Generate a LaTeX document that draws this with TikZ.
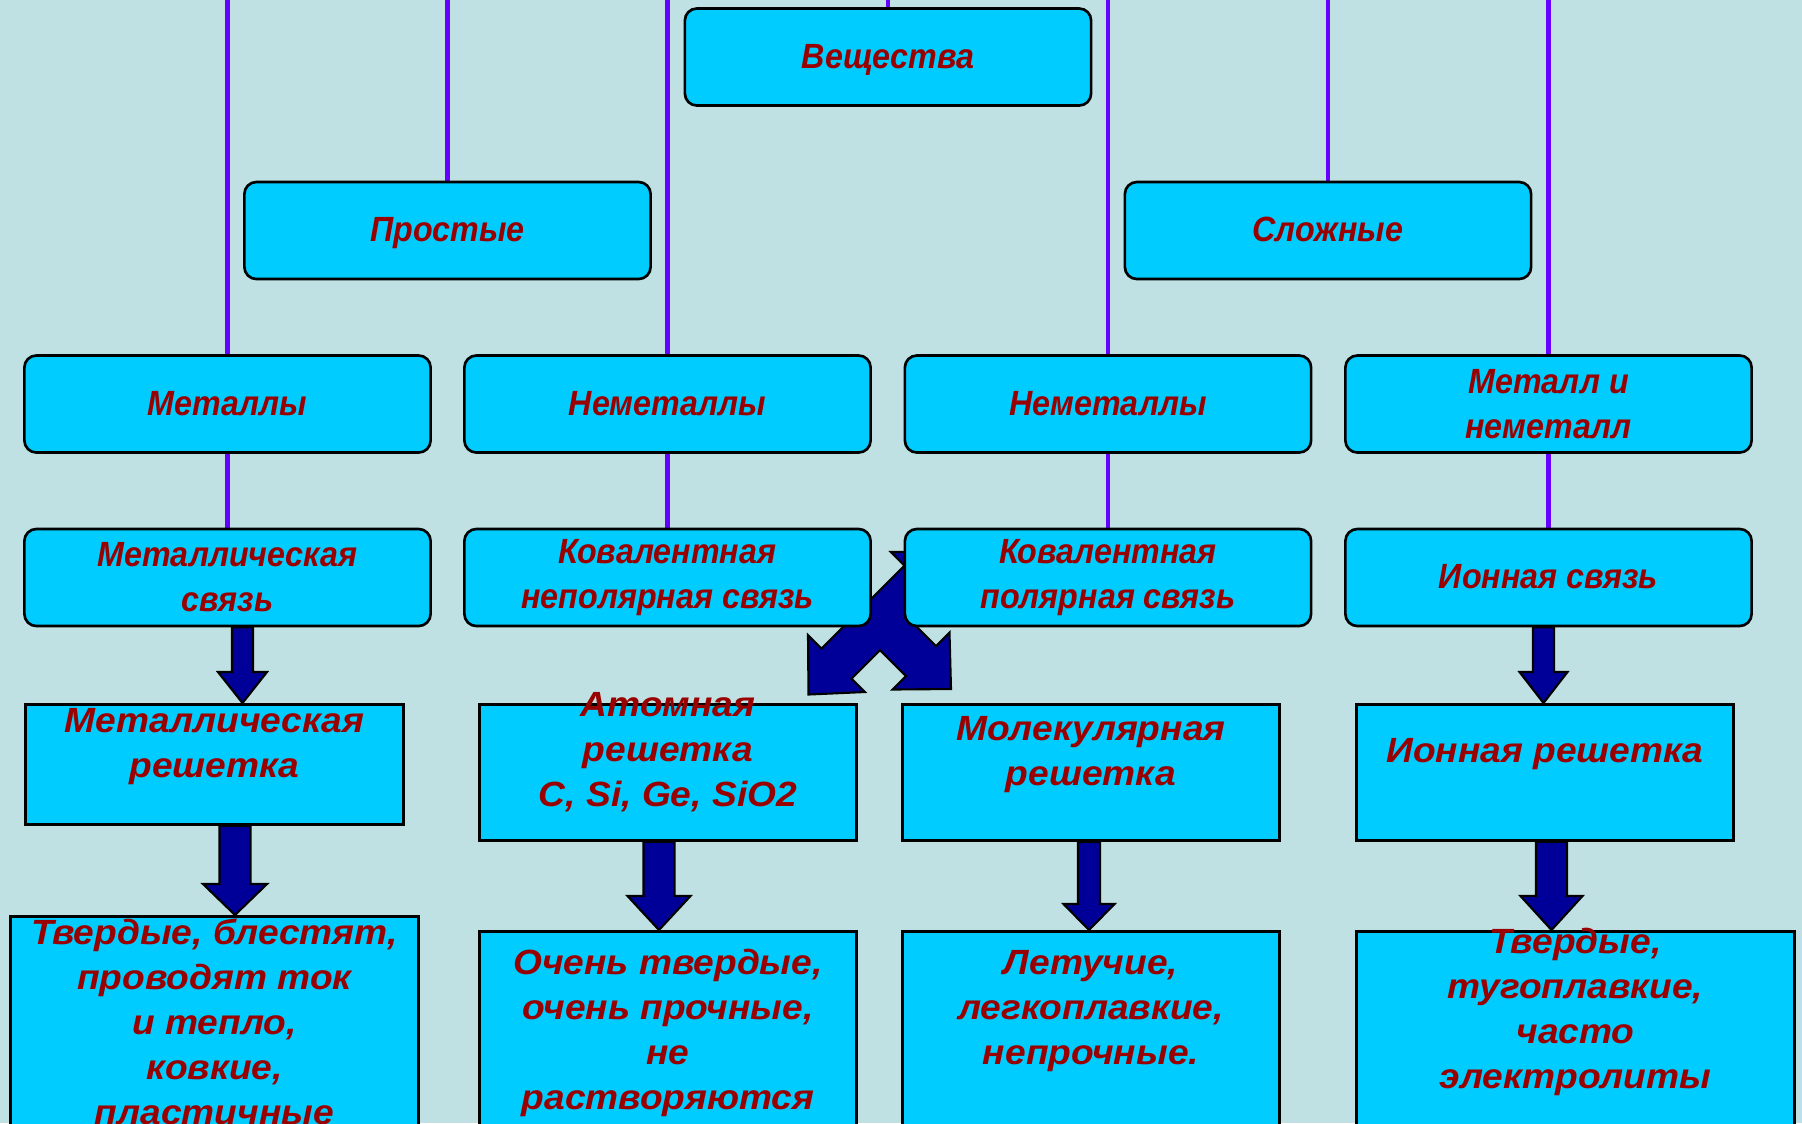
\documentclass[tikz,border=0pt]{standalone}
\usepackage{fontspec}
\setmainfont{Liberation Sans}
\newfontfamily\upfont[FakeStretch=0.92]{Liberation Sans}
\newfontfamily\lowfont[FakeStretch=1.06]{Liberation Sans}
\usetikzlibrary{calc,backgrounds}
\definecolor{bgcol}{HTML}{BFE1E3}
\definecolor{boxcol}{HTML}{00CCFF}
\definecolor{txtcol}{HTML}{990000}
\definecolor{linkcol}{HTML}{6600FF}
\definecolor{arrcol}{HTML}{000099}
\newcommand{\boxfont}{\upfont\fontsize{0.35cm}{0.45cm}\selectfont\bfseries\itshape}
\newcommand{\rectfont}{\lowfont\fontsize{0.35cm}{0.45cm}\selectfont\bfseries\itshape}
\newcommand{\toptext}[4]{\parbox[c][#1][t]{#2}{\centering\vspace*{#3}\strut #4}}
\newcommand{\blockarr}[6]{%
  \path (#3,0) coordinate (ax);
  \draw[fatarrow] ($(ax |- #1.south)+(-#4,0)$) -- ($(ax |- #2.north)+(-#4,-#6)$)
    -- ($(ax |- #2.north)+(-#5,-#6)$) -- (ax |- #2.north) -- ($(ax |- #2.north)+(#5,-#6)$)
    -- ($(ax |- #2.north)+(#4,-#6)$) -- ($(ax |- #1.south)+(#4,0)$) -- cycle;}
\tikzstyle{roundbox}=[shape = rectangle, rounded corners = 0.12cm, draw, line width = 0.75pt, fill = boxcol, minimum width = 4.06cm, minimum height = 0.97cm, align = center, inner sep = 0pt, text = txtcol, font = \boxfont]
\tikzstyle{oneline}=[text height = 0.29cm, text depth = 0.07cm]
\tikzstyle{flatbox}=[shape = rectangle, draw, line width = 0.75pt, fill = boxcol, inner sep = 0pt, anchor = north west, text = txtcol, font = \rectfont]

\begin{document}
\begin{tikzpicture}[x = 0.01cm, y = -0.01cm]
\tikzstyle{link}=[draw = linkcol, line width = 1.4pt]
\tikzstyle{fatarrow}=[draw = black, line width = 0.6pt, fill = arrcol, line join = miter]
\useasboundingbox (0,0) rectangle (1802,1123);
\coordinate (top) at (0,0);
\node[roundbox, oneline] (veshch) at (888,57) {Вещества};
\node[roundbox, oneline] (prost) at (447.5,230.5) {Простые};
\node[roundbox, oneline] (slozh) at (1328,230.5) {Сложные};
\node[roundbox, oneline] (met) at (227.5,404) {Металлы};
\node[roundbox, oneline] (nemet1) at (667.5,404) {Неметаллы};
\node[roundbox, oneline] (nemet2) at (1108,404) {Неметаллы};
\node[roundbox] (metnemet) at (1548.5,404) {Металл и\\неметалл};
\node[roundbox] (msvyaz) at (227.5,577.5) {Металлическая\\связь};
\node[roundbox] (kovnp) at (667.5,577.5) {Ковалентная\\неполярная связь};
\node[roundbox] (kovp) at (1108,577.5) {Ковалентная\\полярная связь};
\node[roundbox, oneline] (isvyaz) at (1548.5,577.5) {Ионная связь};
\node[flatbox] (mresh) at (24,703) {\toptext{1.20cm}{3.78cm}{-0.035cm}{Металлическая\\решетка}};
\node[flatbox] (atom) at (478,703) {\toptext{1.36cm}{3.77cm}{-0.195cm}{Атомная\\решетка\\C, Si, Ge, SiO2}};
\node[flatbox] (mol) at (901,703) {\toptext{1.36cm}{3.77cm}{0.045cm}{Молекулярная\\решетка}};
\node[flatbox] (iresh) at (1355,703) {\toptext{1.36cm}{3.77cm}{0.265cm}{Ионная решетка}};
\node[flatbox] (mprop) at (9,915) {\toptext{2.60cm}{4.08cm}{-0.035cm}{Твердые, блестят,\\проводят ток\\и тепло,\\ковкие,\\пластичные}};
\node[flatbox] (atprop) at (478,930) {\toptext{2.50cm}{3.77cm}{0.115cm}{Очень твердые,\\очень прочные,\\не\\растворяются}};
\node[flatbox] (molprop) at (901,930) {\toptext{2.50cm}{3.77cm}{0.115cm}{Летучие,\\легкоплавкие,\\непрочные.}};
\node[flatbox] (iprop) at (1355,930) {\toptext{2.50cm}{4.38cm}{-0.095cm}{Твердые,\\тугоплавкие,\\часто\\электролиты}};
\begin{scope}[on background layer]
\fill[bgcol] (0,0) rectangle (1802,1123);
\draw[link] (veshch.north) -- (veshch.north |- top);
\draw[link] (prost.north) -- (prost.north |- top);
\draw[link] (slozh.north) -- (slozh.north |- top);
\draw[link] (met.north) -- (met.north |- top);
\draw[link] (nemet1.north) -- (nemet1.north |- top);
\draw[link] (nemet2.north) -- (nemet2.north |- top);
\draw[link] (metnemet.north) -- (metnemet.north |- top);
\draw[link] (met.south) -- (msvyaz.north);
\draw[link] (nemet1.south) -- (kovnp.north);
\draw[link] (nemet2.south) -- (kovp.north);
\draw[link] (metnemet.south) -- (isvyaz.north);
\draw[fatarrow] (948.5,551.5) -- (891,552) -- (904.5,565.5) -- (821.5,648.5) -- (808,635)
  -- (808.5,694.5) -- (865,692) -- (851.5,678.5) -- (880,650) -- (906,676) -- (892.5,689.5)
  -- (951,689) -- (949.5,632.5) -- (936,646) -- (910,620) -- (934.5,595.5) -- (948,609) -- cycle;
\end{scope}
\blockarr{msvyaz}{mresh}{242.5}{10.5}{24.5}{31}
\blockarr{mresh}{mprop}{235}{15.5}{32}{31}
\blockarr{atom}{atprop}{659}{15.5}{31.5}{34}
\blockarr{mol}{molprop}{1089}{11}{25.5}{26}
\blockarr{isvyaz}{iresh}{1543.5}{10.5}{24}{31}
\blockarr{iresh}{iprop}{1551.5}{15.5}{31}{34}
\end{tikzpicture}
\end{document}
